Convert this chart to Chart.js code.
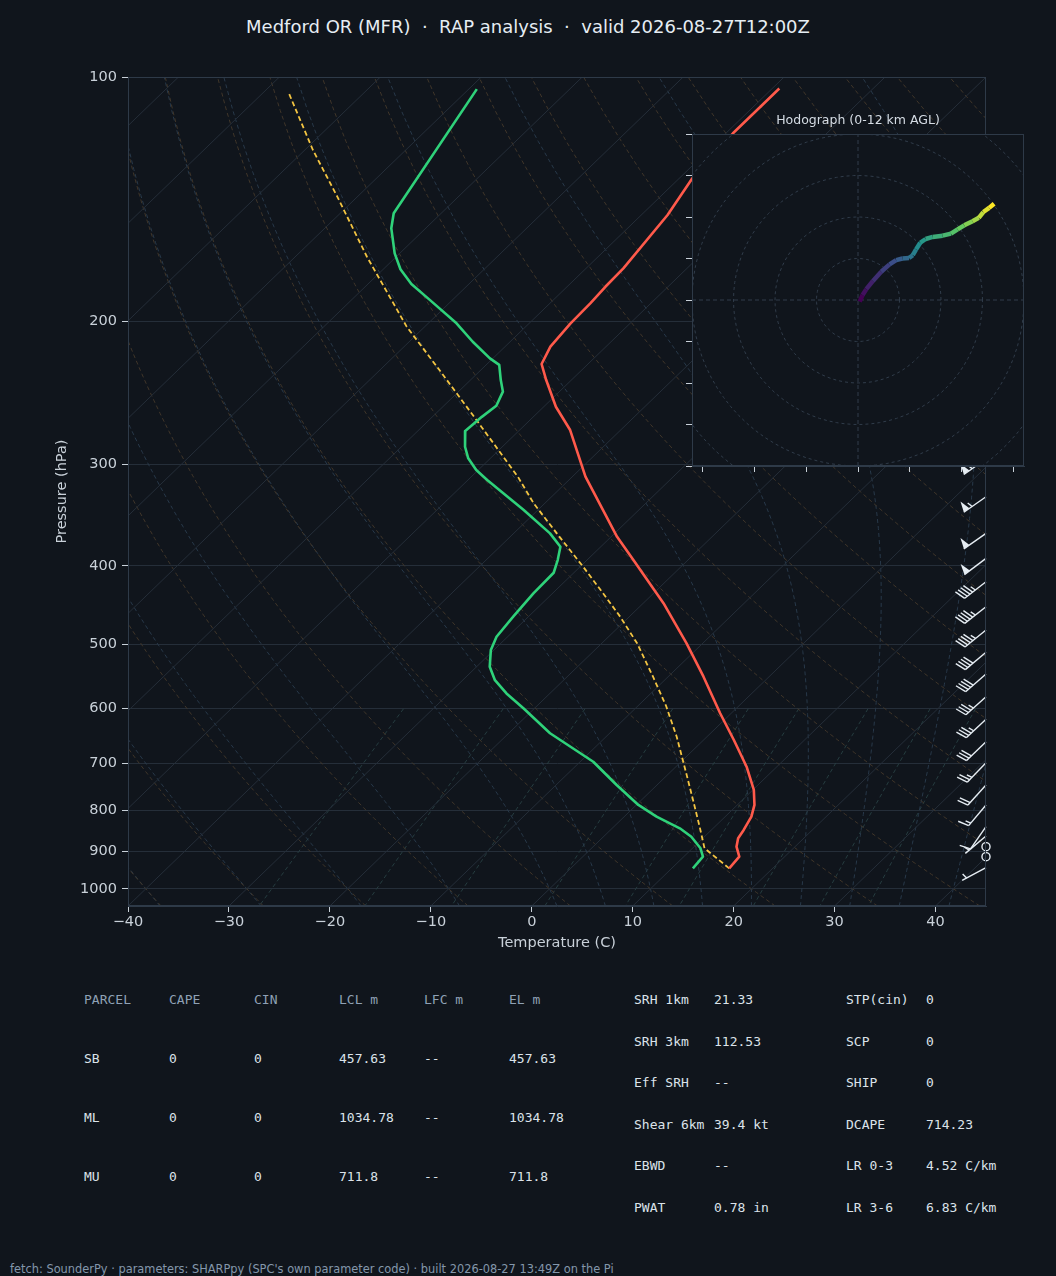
<!DOCTYPE html>
<html>
<head>
<meta charset="utf-8">
<script src="https://cdn.jsdelivr.net/npm/chart.js@4.4.1/dist/chart.umd.min.js"></script>
<style>
  body { margin: 0; background: #10151c; }
  #page { position: relative; width: 1056px; height: 1276px; overflow: hidden; background: #10151c; font-family: 'DejaVu Sans', sans-serif; }
  .t { position: absolute; white-space: pre; }
  .mono { font-family: 'DejaVu Sans Mono', monospace; font-size: 13px; line-height: 16px; }
</style>
</head>
<body>
<div id="page">
  <div class="t" style="left:0;width:1056px;top:16px;text-align:center;font-size:18px;line-height:22px;color:#e6edf3">Medford OR (MFR)  ·  RAP analysis  ·  valid 2026-08-27T12:00Z</div>
  <canvas id="skewt" width="1056" height="960" style="position:absolute;left:0;top:0"></canvas>
  <canvas id="hodo" width="372" height="380" style="position:absolute;left:672px;top:100px"></canvas>
  <div class="t" style="left:758px;width:200px;top:112px;text-align:center;font-size:12.5px;line-height:16px;color:#d5dce4">Hodograph (0-12 km AGL)</div>
  <div id="tables"></div>
  <div class="t" style="left:10px;top:1262px;font-size:11.4px;line-height:14px;color:#8497ab">fetch: SounderPy · parameters: SHARPpy (SPC's own parameter code) · built 2026-08-27 13:49Z on the Pi</div>
</div>
<script>
const xTicks = [-40, -30, -20, -10, 0, 10, 20, 30, 40];
const pTicks = [100, 200, 300, 400, 500, 600, 700, 800, 900, 1000];

const tempP = [103.3, 117.3, 133.3, 147.9, 172.1, 181.3, 190.0, 201.1, 214.9, 225.7, 236.2, 254.8, 272.2, 310.7, 368.5, 393.6, 444.8, 498.4, 547.9, 607.8, 655.7, 707.3, 755.5, 788.3, 815.0, 846.3, 866.5, 887.4, 912.9, 943.6];
const tempC = [-59.3, -59.3, -58.7, -57.4, -56.3, -56.2, -56.0, -55.9, -55.5, -54.6, -52.5, -48.8, -45.0, -38.7, -29.4, -25.4, -18.0, -11.6, -6.5, -1.1, 3.0, 7.0, 10.1, 11.7, 12.6, 13.2, 13.5, 14.2, 15.5, 15.7];

const dewP = [103.5, 147.2, 153.6, 164.9, 172.5, 179.9, 188.3, 201.1, 211.9, 222.1, 226.3, 236.2, 244.1, 254.1, 262.2, 272.9, 285.4, 294.9, 304.9, 313.6, 341.5, 364.9, 379.0, 393.6, 408.0, 432.5, 462.2, 489.2, 508.0, 532.6, 553.4, 574.6, 599.3, 643.3, 697.4, 744.9, 788.3, 815.0, 842.3, 862.6, 891.5, 912.9, 943.6];
const dewC = [-89.2, -84.7, -83.4, -80.5, -78.3, -75.7, -72.2, -67.2, -63.7, -60.3, -58.7, -57.0, -55.6, -54.8, -55.1, -55.3, -53.7, -52.2, -50.2, -48.1, -41.4, -36.4, -34.0, -32.9, -32.0, -31.9, -31.5, -31.1, -30.3, -28.7, -26.8, -24.3, -21.1, -15.9, -8.7, -4.0, 0.2, 3.2, 6.7, 8.7, 10.8, 11.9, 12.1];

const parcelP = [943.6, 891.5, 838.5, 777.2, 720.7, 649.6, 596.6, 547.9, 498.4, 462.2, 432.5, 401.1, 368.5, 335.1, 310.7, 264.6, 229.6, 203.0, 166.5, 140.4, 123.0, 104.3];
const parcelC = [15.7, 11.2, 8.5, 5.1, 1.7, -3.0, -7.1, -11.5, -16.5, -20.9, -25.0, -29.7, -35.1, -41.1, -45.4, -55.3, -64.1, -71.8, -82.9, -92.0, -99.2, -107.6];

const barbP = [295.5, 328.9, 364.9, 391.7, 418.5, 449.3, 479.9, 511.3, 543.7, 579.9, 618.2, 659.0, 699.4, 744.9, 788.3, 838.5, 860.9, 887.4, 912.9, 942.0];
const barbKt = [55, 55, 50, 50, 45, 45, 45, 40, 40, 35, 35, 30, 25, 20, 15, 10, 5, 0, 0, 5];
const barbDir = [235, 235, 235, 233, 232, 232, 231, 230, 229, 228, 227, 226, 224, 222, 220, 215, 230, 0, 0, 242];

const hodoU = [0.4, 1.1, 2.0, 3.6, 5.6, 7.6, 9.2, 10.7, 12.3, 13.2, 14.0, 15.0, 16.3, 18.0, 20.4, 22.4, 24.0, 25.6, 27.6, 29.1, 30.2, 31.6, 32.8];
const hodoV = [-0.4, 1.2, 2.6, 4.6, 6.8, 8.6, 9.6, 10.0, 10.1, 10.8, 12.2, 13.8, 14.7, 15.2, 15.5, 16.0, 17.0, 18.0, 19.0, 19.8, 21.2, 22.2, 23.2];

const parcelHead = ['PARCEL', 'CAPE', 'CIN', 'LCL m', 'LFC m', 'EL m'];
const parcelRows = [
  ['SB', '0', '0', '457.63', '--', '457.63'],
  ['ML', '0', '0', '1034.78', '--', '1034.78'],
  ['MU', '0', '0', '711.8', '--', '711.8']
];
const paramsA = [['SRH 1km', '21.33'], ['SRH 3km', '112.53'], ['Eff SRH', '--'], ['Shear 6km', '39.4 kt'], ['EBWD', '--'], ['PWAT', '0.78 in']];
const paramsB = [['STP(cin)', '0'], ['SCP', '0'], ['SHIP', '0'], ['DCAPE', '714.23'], ['LR 0-3', '4.52 C/km'], ['LR 3-6', '6.83 C/km']];

// ---- skew-T geometry ----
const tMin = -40, tMax = 45, pBot = 1050, pTop = 100;
function skewX(t, p) {
  return t + (tMax - tMin) * Math.log(pBot / p) / Math.log(pBot / pTop);
}
const plevs = [];
for (let p = 1050; p >= 100; p -= 10) plevs.push(p);

function es(tk) { return 6.112 * Math.exp(17.67 * (tk - 273.15) / (tk - 29.65)); }
function dTdp(p, T) {
  const e = es(T);
  const rs = 0.622 * e / (p - e);
  const Lv = 2.501e6;
  return (287.04 * T + Lv * rs) / (1005.7 + Lv * Lv * rs * 0.622 / (287.04 * T * T)) / p;
}
function moistLine(t0) {
  const vals = {};
  const rk = (p, T, dp) => T + dTdp(p + dp / 2, T + dTdp(p, T) * dp / 2) * dp;
  let T = t0 + 273.15;
  vals[1000] = T;
  for (let p = 1000; p < 1050; p++) { T = rk(p, T, 1); if ((p + 1) % 10 === 0) vals[p + 1] = T; }
  T = t0 + 273.15;
  for (let p = 1000; p > 100; p--) { T = rk(p, T, -1); if ((p - 1) % 10 === 0) vals[p - 1] = T; }
  return plevs.map(p => ({ x: skewX(vals[p] - 273.15, p), y: p }));
}

const bgLine = (data, color, dash) => ({
  data, showLine: true, borderColor: color, borderWidth: 1, borderDash: dash,
  pointRadius: 0, order: 10
});

const datasets = [];
for (let t = -120; t <= 40; t += 10) {
  datasets.push(bgLine([{ x: skewX(t, pBot), y: pBot }, { x: skewX(t, pTop), y: pTop }], '#252e39', []));
}
for (let t0 = -40; t0 <= 240; t0 += 10) {
  datasets.push(bgLine(plevs.map(p => ({ x: skewX((t0 + 273.15) * Math.pow(p / 1000, 0.2857) - 273.15, p), y: p })), '#40362a', [4, 3]));
}
const moistT0 = [-40, -30, -20, -10, 0, 5, 10, 15, 20, 25, 30, 35, 40, 45];
moistT0.forEach(t0 => datasets.push(bgLine(moistLine(t0), '#28394a', [4, 3])));
const mixW = [0.0004, 0.001, 0.002, 0.004, 0.007, 0.01, 0.016, 0.024, 0.032];
const mixP = [600, 650, 700, 750, 800, 850, 900, 950, 1000, 1050];
mixW.forEach(w => {
  datasets.push(bgLine(mixP.map(p => {
    const lg = Math.log(p * w / (0.622 + w) / 6.112);
    return { x: skewX(243.5 * lg / (17.67 - lg), p), y: p };
  }), '#263d40', [4, 3]));
});

const profile = (P, C, color, width, dash) => ({
  data: P.map((p, i) => ({ x: skewX(C[i], p), y: p })),
  showLine: true, borderColor: color, borderWidth: width, borderDash: dash,
  pointRadius: 0, order: 1, borderJoinStyle: 'round'
});
datasets.push(profile(tempP, tempC, '#ff5a4b', 2.6, []));
datasets.push(profile(dewP, dewC, '#2fd27a', 2.6, []));
datasets.push(profile(parcelP, parcelC, '#f4c542', 1.8, [5, 3]));

// ---- wind barbs ----
function drawBarb(ctx, x, y, kt, dir, L) {
  if (kt < 2.5) {
    ctx.beginPath(); ctx.arc(x, y, 0.15 * L, 0, 2 * Math.PI); ctx.stroke();
    return;
  }
  const a = dir * Math.PI / 180;
  const dx = Math.sin(a), dy = -Math.cos(a);
  const nx = -dy, ny = dx;
  const h = 0.4 * L, w = 0.25 * L, sp = 0.125 * L;
  const at = d => [x + dx * d, y + dy * d];
  ctx.beginPath(); ctx.moveTo(x, y); ctx.lineTo(...at(L)); ctx.stroke();
  let s = Math.round(kt / 5) * 5;
  const flags = Math.floor(s / 50); s -= flags * 50;
  const full = Math.floor(s / 10); s -= full * 10;
  let d = L;
  for (let i = 0; i < flags; i++) {
    const [x1, y1] = at(d), [xm, ym] = at(d - w / 2), [x2, y2] = at(d - w);
    ctx.beginPath(); ctx.moveTo(x1, y1); ctx.lineTo(xm + nx * h, ym + ny * h); ctx.lineTo(x2, y2);
    ctx.closePath(); ctx.fill();
    d -= w + sp;
  }
  for (let i = 0; i < full; i++) {
    const [bx, by] = at(d), [tx, ty] = at(d + w / 2);
    ctx.beginPath(); ctx.moveTo(bx, by); ctx.lineTo(tx + nx * h, ty + ny * h); ctx.stroke();
    d -= sp;
  }
  if (s >= 5) {
    if (d === L) d -= 1.5 * sp;
    const [bx, by] = at(d), [tx, ty] = at(d + w / 4);
    ctx.beginPath(); ctx.moveTo(bx, by); ctx.lineTo(tx + nx * h / 2, ty + ny * h / 2); ctx.stroke();
  }
}
const barbPlugin = {
  id: 'barbs',
  afterDatasetsDraw(chart) {
    const { ctx, chartArea, scales } = chart;
    ctx.save();
    ctx.strokeStyle = ctx.fillStyle = '#e6edf3';
    ctx.lineWidth = 1.4;
    barbP.forEach((p, i) => drawBarb(ctx, chartArea.right, scales.y.getPixelForValue(p), barbKt[i], barbDir[i], 27));
    ctx.restore();
  }
};
const frame = (bg) => ({
  id: 'frame',
  beforeDraw(chart) {
    if (!bg) return;
    const a = chart.chartArea;
    chart.ctx.save(); chart.ctx.fillStyle = bg;
    chart.ctx.fillRect(a.left, a.top, a.right - a.left, a.bottom - a.top);
    chart.ctx.restore();
  },
  afterDraw(chart) {
    const a = chart.chartArea, ctx = chart.ctx;
    ctx.save(); ctx.strokeStyle = '#2e3a48'; ctx.lineWidth = 1;
    ctx.strokeRect(a.left + 0.5, a.top + 0.5, a.right - a.left - 1, a.bottom - a.top - 1);
    ctx.restore();
  }
});

Chart.defaults.font.family = "'DejaVu Sans', sans-serif";
const tickCol = '#c9d1d9';
const minus = v => (v < 0 ? '\u2212' + Math.abs(v) : String(v));

new Chart(document.getElementById('skewt'), {
  type: 'scatter',
  data: { datasets },
  options: {
    responsive: false, animation: false, events: [],
    layout: { padding: { left: 0, right: 70, top: 77, bottom: 0 } },
    plugins: { legend: { display: false }, tooltip: { enabled: false } },
    scales: {
      x: {
        type: 'linear', min: tMin, max: tMax,
        afterBuildTicks: s => { s.ticks = xTicks.map(v => ({ value: v })); },
        afterFit: s => { s.height = 54; },
        grid: { drawOnChartArea: false, drawTicks: true, tickLength: 6, tickColor: tickCol },
        border: { color: '#2e3a48' },
        ticks: { color: tickCol, font: { size: 14.5 }, padding: 2, autoSkip: false, maxRotation: 0, callback: minus },
        title: { display: true, text: 'Temperature (C)', color: tickCol, font: { size: 14.5 }, padding: { bottom: 8 } }
      },
      y: {
        type: 'logarithmic', reverse: true, min: pTop, max: pBot,
        afterBuildTicks: s => { s.ticks = pTicks.map(v => ({ value: v })); },
        afterFit: s => { s.width = 128; },
        grid: { color: '#252e39', drawTicks: true, tickLength: 6, tickColor: tickCol },
        border: { color: '#2e3a48' },
        ticks: { color: tickCol, font: { size: 14.5 }, padding: 5, autoSkip: false, callback: v => String(v) },
        title: { display: true, text: 'Pressure (hPa)', color: tickCol, font: { size: 14.5 }, padding: { top: 54 } }
      }
    }
  },
  plugins: [barbPlugin, frame(null)]
});

// ---- hodograph ----
const viridisStops = ['#440154', '#3b528b', '#21918c', '#5ec962', '#fde725'];
function viridis(t) {
  const f = Math.min(Math.max(t, 0), 1) * (viridisStops.length - 1);
  const i = Math.min(Math.floor(f), viridisStops.length - 2), k = f - i;
  const c0 = viridisStops[i], c1 = viridisStops[i + 1];
  const ch = (c, j) => parseInt(c.substr(1 + 2 * j, 2), 16);
  return 'rgb(' + [0, 1, 2].map(j => Math.round(ch(c0, j) + (ch(c1, j) - ch(c0, j)) * k)).join(',') + ')';
}
const hodoSets = [];
[10, 20, 30, 40, 50].forEach(r => {
  const pts = [];
  for (let a = 0; a <= 360; a += 4) pts.push({ x: r * Math.cos(a * Math.PI / 180), y: r * Math.sin(a * Math.PI / 180) });
  hodoSets.push({ data: pts, showLine: true, borderColor: '#303c4a', borderWidth: 1, borderDash: [3, 3], pointRadius: 0, order: 5 });
});
hodoSets.push({ data: [{ x: -40, y: 0 }, { x: 40, y: 0 }], showLine: true, borderColor: '#303c4a', borderWidth: 1, borderDash: [4, 3], pointRadius: 0, order: 5 });
hodoSets.push({ data: [{ x: 0, y: -40 }, { x: 0, y: 40 }], showLine: true, borderColor: '#303c4a', borderWidth: 1, borderDash: [4, 3], pointRadius: 0, order: 5 });
hodoSets.push({
  data: hodoU.map((u, i) => ({ x: u, y: hodoV[i] })),
  showLine: true, borderWidth: 4.5, pointRadius: 0, order: 1, borderColor: '#21918c',
  segment: { borderColor: c => viridis(c.p0DataIndex / (hodoU.length - 2)) }
});

const hodoXTicks = [-37.5, -25, -12.5, 0, 12.5, 25, 37.5];
const hodoYTicks = [-40, -30, -20, -10, 0, 10, 20, 30, 40];
new Chart(document.getElementById('hodo'), {
  type: 'scatter',
  data: { datasets: hodoSets },
  options: {
    responsive: false, animation: false, events: [],
    layout: { padding: { left: 0, right: 20, top: 34, bottom: 0 } },
    plugins: { legend: { display: false }, tooltip: { enabled: false } },
    scales: {
      x: {
        min: -40, max: 40,
        afterBuildTicks: s => { s.ticks = hodoXTicks.map(v => ({ value: v })); },
        afterFit: s => { s.height = 14; },
        grid: { drawOnChartArea: false, drawTicks: true, tickLength: 6, tickColor: tickCol },
        border: { color: '#2e3a48' },
        ticks: { display: false }
      },
      y: {
        min: -40, max: 40,
        afterBuildTicks: s => { s.ticks = hodoYTicks.map(v => ({ value: v })); },
        afterFit: s => { s.width = 20; },
        grid: { drawOnChartArea: false, drawTicks: true, tickLength: 6, tickColor: tickCol },
        border: { color: '#2e3a48' },
        ticks: { display: false }
      }
    }
  },
  plugins: [frame('#10151c')]
});

// ---- parameter tables ----
const tables = document.getElementById('tables');
function put(text, x, yc, color) {
  const el = document.createElement('div');
  el.className = 't mono';
  el.style.left = x + 'px';
  el.style.top = (yc - 8) + 'px';
  el.style.color = color;
  el.textContent = text;
  tables.appendChild(el);
}
parcelHead.forEach((h, j) => put(h, 84 + 85 * j, 1000, '#8fa1b5'));
parcelRows.forEach((row, i) => row.forEach((v, j) => put(v, 84 + 85 * j, 1058.5 + 59 * i, '#dce3ea')));
paramsA.forEach((r, i) => { put(r[0], 634, 1000 + 41.5 * i, '#dce3ea'); put(r[1], 714, 1000 + 41.5 * i, '#dce3ea'); });
paramsB.forEach((r, i) => { put(r[0], 846, 1000 + 41.5 * i, '#dce3ea'); put(r[1], 926, 1000 + 41.5 * i, '#dce3ea'); });
</script>
</body>
</html>
